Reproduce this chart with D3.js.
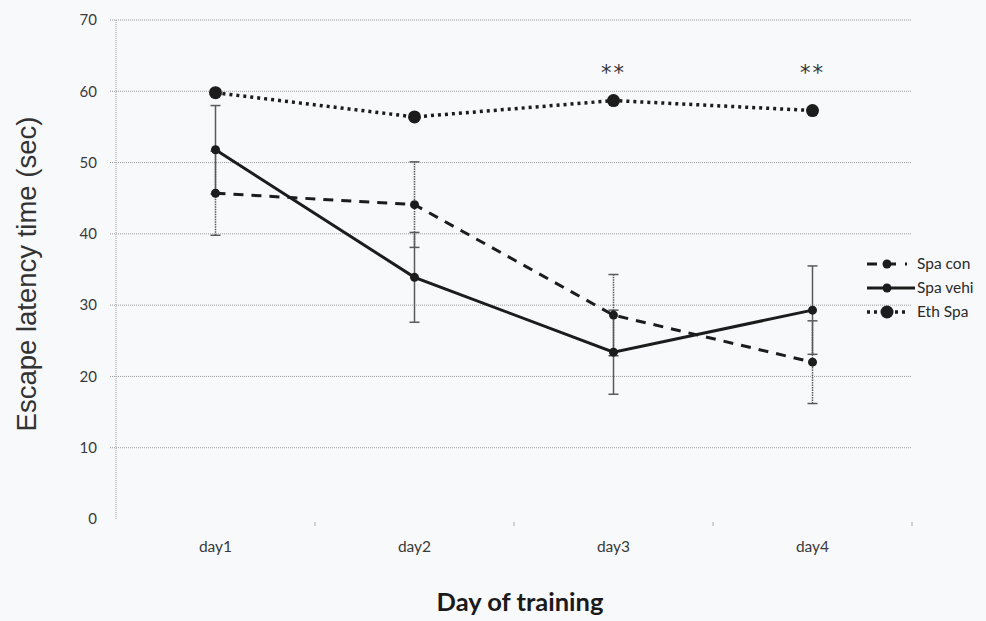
<!DOCTYPE html>
<html>
<head>
<meta charset="utf-8">
<script src="https://cdn.jsdelivr.net/npm/d3@7"></script>
<style>
  html, body { margin: 0; padding: 0; background: #f8f9fb; }
  svg { display: block; }
</style>
</head>
<body>
<div id="chart"></div>
<script>
const days = ['day1', 'day2', 'day3', 'day4'];
const yTicks = [0, 10, 20, 30, 40, 50, 60, 70];

const spaCon = [45.7, 44.1, 28.6, 22.0];
const spaConErr = [5.9, 6.0, 5.7, 5.8];
const spaVehi = [51.8, 33.9, 23.4, 29.3];
const spaVehiErr = [6.2, 6.3, 5.9, 6.2];
const ethSpa = [59.8, 56.4, 58.7, 57.3];

const marks = ['', '', '**', '**'];
const markLevel = 61.6;

const seriesNames = ['Spa con', 'Spa vehi', 'Eth Spa'];

const W = 986, H = 621;
const margin = {top: 20, right: 74, bottom: 102, left: 116};
const width = W - margin.left - margin.right,
    height = H - margin.top - margin.bottom;

const svg = d3.select('#chart')
    .append('svg')
    .attr('width', W)
    .attr('height', H);

svg.append('rect').attr('width', W).attr('height', H).attr('fill', '#f8f9fb');

const g = svg.append('g')
    .attr('transform', `translate(${margin.left}, ${margin.top})`);

const xScale = d3.scalePoint()
    .domain(days)
    .range([0, width])
    .padding(0.5);

const yScale = d3.scaleLinear()
    .domain([0, 70])
    .range([height, 0]);

const step = xScale.step();

// gridlines
g.selectAll('.grid')
    .data(yTicks.filter(d => d > 0))
    .enter().append('line')
    .attr('x1', -6)
    .attr('x2', width)
    .attr('y1', d => yScale(d))
    .attr('y2', d => yScale(d))
    .attr('stroke', '#9a9a9a')
    .attr('stroke-width', 1)
    .attr('stroke-dasharray', '1,1');

// left axis line (dotted)
g.append('line')
    .attr('x1', 0).attr('x2', 0)
    .attr('y1', 0).attr('y2', height)
    .attr('stroke', '#9a9a9a')
    .attr('stroke-dasharray', '1,1');

// y tick labels
g.selectAll('.ylab')
    .data(yTicks)
    .enter().append('text')
    .attr('x', -19)
    .attr('y', d => yScale(d))
    .attr('dy', '0.35em')
    .attr('text-anchor', 'end')
    .attr('font-family', 'Lato, "Open Sans", sans-serif')
    .attr('font-size', 15)
    .attr('fill', '#3a3a3a')
    .text(d => d);

// x ticks at band boundaries
g.selectAll('.xtick')
    .data(days)
    .enter().append('line')
    .attr('x1', d => xScale(d) + step / 2)
    .attr('x2', d => xScale(d) + step / 2)
    .attr('y1', height + 3)
    .attr('y2', height + 7)
    .attr('stroke', '#aaa');

// x labels
g.selectAll('.xlab')
    .data(days)
    .enter().append('text')
    .attr('x', d => xScale(d))
    .attr('y', height + 33)
    .attr('text-anchor', 'middle')
    .attr('font-family', 'Lato, "Open Sans", sans-serif')
    .attr('font-size', 15.5)
    .attr('fill', '#3a3a3a')
    .text(d => d);

// axis titles
svg.append('text')
    .attr('x', 520)
    .attr('y', 611)
    .attr('text-anchor', 'middle')
    .attr('font-family', 'Lato, "Open Sans", sans-serif')
    .attr('font-weight', 'bold')
    .attr('font-size', 25.5)
    .attr('fill', '#1a1a1a')
    .text('Day of training');

svg.append('text')
    .attr('transform', 'translate(36, 274) rotate(-90)')
    .attr('text-anchor', 'middle')
    .attr('font-family', '"Liberation Sans", Arial, sans-serif')
    .attr('font-size', 27.5)
    .attr('fill', '#333')
    .text('Escape latency time (sec)');

// error bars
function errorBars(values, errs, dash) {
    const eb = g.append('g');
    days.forEach((d, i) => {
        const x = xScale(d);
        const lo = yScale(values[i] - errs[i]), hi = yScale(values[i] + errs[i]);
        eb.append('line')
            .attr('x1', x).attr('x2', x)
            .attr('y1', lo).attr('y2', hi)
            .attr('stroke', '#5a5a5a')
            .attr('stroke-width', 1.5)
            .attr('stroke-dasharray', dash);
        [lo, hi].forEach(y => {
            eb.append('line')
                .attr('x1', x - 5).attr('x2', x + 5)
                .attr('y1', y).attr('y2', y)
                .attr('stroke', '#5a5a5a')
                .attr('stroke-width', 1.5);
        });
    });
}
errorBars(spaCon, spaConErr, '1.5,1');
errorBars(spaVehi, spaVehiErr, null);

const line = d3.line()
    .x((d, i) => xScale(days[i]))
    .y(d => yScale(d));

const styles = [
    {data: spaCon, dash: '10,8', width: 3, r: 4.5},
    {data: spaVehi, dash: null, width: 3, r: 4.5},
    {data: ethSpa, dash: '3,4', width: 3.5, r: 6.5}
];

styles.forEach(s => {
    g.append('path')
        .datum(s.data)
        .attr('fill', 'none')
        .attr('stroke', '#1c1c1c')
        .attr('stroke-width', s.width)
        .attr('stroke-dasharray', s.dash)
        .attr('d', line);
    g.selectAll(null)
        .data(s.data)
        .enter().append('circle')
        .attr('cx', (d, i) => xScale(days[i]))
        .attr('cy', d => yScale(d))
        .attr('r', s.r)
        .attr('fill', '#1c1c1c');
});

// significance marks
g.selectAll('.sig')
    .data(marks)
    .enter().append('text')
    .attr('x', (d, i) => xScale(days[i]))
    .attr('y', yScale(markLevel))
    .attr('text-anchor', 'middle')
    .attr('font-family', '"DejaVu Sans", sans-serif')
    .attr('font-size', 21)
    .attr('letter-spacing', 2)
    .attr('fill', '#333')
    .text(d => d);

// legend
const legend = svg.append('g').attr('transform', 'translate(867, 264)');
styles.forEach((s, i) => {
    const row = legend.append('g').attr('transform', `translate(0, ${i * 24})`);
    row.append('line')
        .attr('x1', 0).attr('x2', i === 1 ? 48 : 40)
        .attr('y1', 0).attr('y2', 0)
        .attr('stroke', '#1c1c1c')
        .attr('stroke-width', s.width)
        .attr('stroke-dasharray', i === 0 ? '10,9' : s.dash);
    row.append('circle')
        .attr('cx', 20).attr('cy', 0)
        .attr('r', s.r)
        .attr('fill', '#1c1c1c');
    row.append('text')
        .attr('x', 50)
        .attr('y', 0)
        .attr('dy', '0.35em')
        .attr('font-family', 'Lato, "Open Sans", sans-serif')
        .attr('font-size', 15.5)
        .attr('fill', '#2a2a2a')
        .text(seriesNames[i]);
});
</script>
</body>
</html>
